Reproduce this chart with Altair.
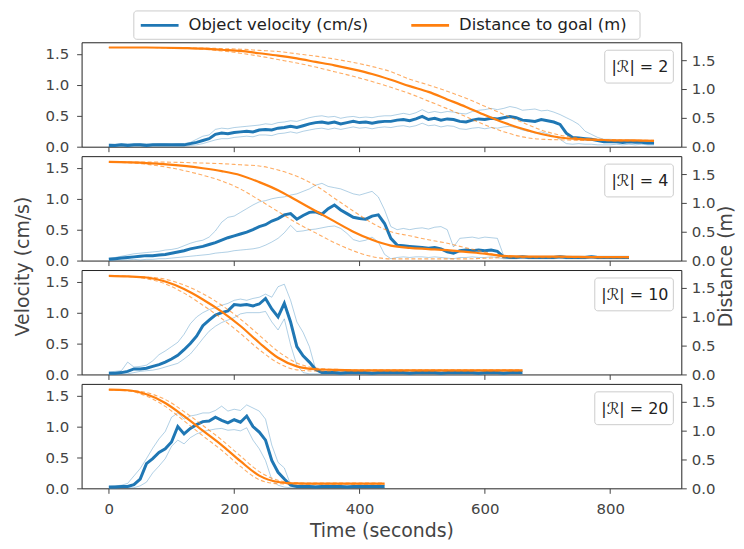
import altair as alt
import pandas as pd

# ---------------- data ----------------
legend_labels = ["Object velocity (cm/s)", "Distance to goal (m)"]
r_labels = ["|ℛ| = 2", "|ℛ| = 4", "|ℛ| = 10", "|ℛ| = 20"]
x_ticks = [0, 200, 400, 600, 800]
y_ticks = [0.0, 0.5, 1.0, 1.5]

# velocity sampled every 10 s (mean, upper band, lower band) for each panel
v1_mean = [0.02,0.02,0.03,0.02,0.03,0.03,0.02,0.03,0.03,0.03,0.03,0.03,0.03,
           0.05,0.07,0.10,0.13,0.20,0.22,0.21,0.23,0.24,0.25,
           0.24,0.27,0.28,0.27,0.30,0.31,0.33,0.31,0.34,0.37,
           0.39,0.40,0.38,0.40,0.37,0.39,0.41,0.39,0.40,0.38,
           0.40,0.41,0.41,0.43,0.44,0.42,0.45,0.49,0.44,0.46,
           0.43,0.45,0.44,0.41,0.40,0.43,0.45,0.44,0.46,0.45,
           0.47,0.49,0.47,0.43,0.42,0.41,0.44,0.42,0.40,0.36,
           0.22,0.15,0.14,0.13,0.12,0.10,0.08,0.08,0.08,0.07,
           0.08,0.07,0.07,0.06,0.06]
v1_up = [0.05,0.04,0.05,0.05,0.04,0.05,0.05,0.04,0.05,0.05,0.04,0.05,0.05,
         0.07,0.12,0.17,0.19,0.28,0.30,0.29,0.31,0.32,0.33,
         0.34,0.35,0.37,0.36,0.39,0.40,0.42,0.41,0.44,0.47,
         0.49,0.50,0.48,0.49,0.46,0.48,0.49,0.47,0.48,0.47,
         0.49,0.50,0.50,0.52,0.54,0.52,0.55,0.60,0.55,0.57,
         0.55,0.57,0.56,0.54,0.53,0.57,0.59,0.60,0.62,0.60,
         0.62,0.65,0.63,0.59,0.60,0.61,0.58,0.59,0.56,0.52,
         0.47,0.42,0.36,0.25,0.20,0.15,0.12,0.12,0.11,0.10,
         0.11,0.10,0.10,0.09,0.09]
v1_lo = [0.00,0.01,0.01,0.00,0.01,0.01,0.00,0.01,0.01,0.01,0.01,0.01,0.01,
         0.02,0.03,0.05,0.08,0.11,0.13,0.13,0.15,0.16,0.17,
         0.16,0.19,0.19,0.18,0.21,0.22,0.24,0.22,0.25,0.27,
         0.29,0.30,0.28,0.30,0.28,0.30,0.32,0.30,0.31,0.29,
         0.31,0.32,0.31,0.33,0.34,0.32,0.34,0.38,0.34,0.35,
         0.32,0.34,0.33,0.29,0.28,0.30,0.31,0.29,0.31,0.30,
         0.32,0.33,0.31,0.27,0.25,0.22,0.24,0.21,0.17,0.12,
         0.05,0.04,0.05,0.04,0.04,0.03,0.03,0.03,0.04,0.03,
         0.04,0.03,0.04,0.03,0.03]

v2_mean = [0.02,0.03,0.04,0.05,0.06,0.07,0.08,0.08,0.09,0.10,
           0.12,0.14,0.16,0.19,0.21,0.23,0.26,0.29,0.33,0.37,
           0.40,0.43,0.46,0.50,0.55,0.58,0.64,0.68,0.74,0.76,
           0.67,0.73,0.78,0.79,0.75,0.84,0.90,0.82,0.76,0.70,
           0.68,0.67,0.72,0.74,0.60,0.36,0.25,0.24,0.23,0.22,
           0.21,0.20,0.21,0.19,0.14,0.12,0.16,0.17,0.16,0.17,
           0.16,0.17,0.15,0.06,0.05,0.05,0.06,0.05,0.05,0.05,
           0.05,0.05,0.06,0.05,0.05,0.05,0.05,0.06,0.05,0.05,
           0.05,0.05,0.05,0.05]
v2_up = [0.04,0.05,0.07,0.09,0.11,0.12,0.13,0.14,0.15,0.17,
         0.18,0.20,0.24,0.28,0.31,0.33,0.38,0.48,0.62,0.70,
         0.72,0.78,0.84,0.90,0.95,0.97,1.00,1.02,1.03,1.06,
         1.08,1.12,1.16,1.22,1.25,1.20,1.18,1.16,1.12,1.08,
         1.06,1.09,1.12,1.03,0.82,0.55,0.50,0.52,0.50,0.52,
         0.53,0.51,0.54,0.55,0.50,0.22,0.36,0.37,0.38,0.36,
         0.38,0.37,0.36,0.08,0.07,0.07,0.08,0.07,0.07,0.07,
         0.07,0.07,0.08,0.07,0.07,0.07,0.07,0.08,0.07,0.07,
         0.07,0.07,0.07,0.07]
v2_lo = [0.00,0.01,0.01,0.01,0.02,0.01,0.02,0.02,0.03,0.03,
         0.04,0.05,0.06,0.07,0.08,0.09,0.10,0.12,0.13,0.14,
         0.16,0.17,0.18,0.19,0.21,0.25,0.30,0.36,0.45,0.57,
         0.47,0.48,0.50,0.51,0.53,0.55,0.56,0.52,0.44,0.34,
         0.31,0.33,0.38,0.30,0.10,0.03,0.05,0.06,0.05,0.06,
         0.06,0.05,0.06,0.05,0.04,0.03,0.05,0.05,0.06,0.05,
         0.05,0.06,0.05,0.03,0.03,0.03,0.04,0.03,0.03,0.03,
         0.03,0.03,0.04,0.03,0.03,0.03,0.03,0.04,0.03,0.03,
         0.03,0.03,0.03,0.03]

v3_mean = [0.02,0.02,0.03,0.05,0.09,0.09,0.10,0.13,0.16,0.20,
           0.25,0.31,0.40,0.50,0.62,0.79,0.88,0.96,1.00,1.03,
           1.13,1.12,1.13,1.11,1.14,1.23,1.06,0.93,1.15,0.85,
           0.45,0.30,0.20,0.08,0.03,0.03,0.03,0.02,0.03,0.03,
           0.03,0.03,0.02,0.03,0.03,0.03,0.03,0.03,0.02,0.03,
           0.03,0.03,0.03,0.02,0.03,0.03,0.03,0.03,0.03,0.02,
           0.03,0.03,0.03,0.02,0.03,0.03,0.03]
v3_up = [0.04,0.05,0.06,0.20,0.12,0.13,0.15,0.22,0.32,0.38,
         0.45,0.52,0.65,0.82,0.93,1.00,1.05,1.08,1.12,1.15,
         1.20,1.22,1.20,1.23,1.25,1.30,1.25,1.42,1.46,1.20,
         0.85,0.68,0.45,0.08,0.05,0.05,0.05,0.04,0.05,0.05,
         0.05,0.05,0.04,0.05,0.05,0.05,0.05,0.05,0.04,0.05,
         0.05,0.05,0.05,0.04,0.05,0.05,0.05,0.05,0.05,0.04,
         0.05,0.05,0.05,0.04,0.05,0.05,0.05]
v3_lo = [0.00,0.00,0.01,0.01,0.03,0.05,0.06,0.07,0.09,0.12,
         0.15,0.18,0.25,0.33,0.45,0.58,0.70,0.78,0.84,0.88,
         0.92,0.98,1.00,1.00,1.00,1.02,0.85,0.72,0.90,0.48,
         0.15,0.03,0.01,0.01,0.01,0.01,0.01,0.01,0.01,0.01,
         0.01,0.01,0.01,0.01,0.01,0.01,0.01,0.01,0.01,0.01,
         0.01,0.01,0.01,0.01,0.01,0.01,0.01,0.01,0.01,0.01,
         0.01,0.01,0.01,0.01,0.01,0.01,0.01]

v4_mean = [0.02,0.02,0.03,0.03,0.06,0.15,0.40,0.48,0.58,0.64,
           0.75,1.00,0.88,0.97,1.03,1.08,1.09,1.15,1.10,1.06,
           1.11,1.07,1.17,1.00,0.91,0.78,0.45,0.26,0.15,0.05,
           0.03,0.03,0.03,0.02,0.03,0.03,0.03,0.03,0.02,0.03,
           0.03,0.03,0.03,0.03,0.03]
v4_up = [0.03,0.04,0.05,0.08,0.20,0.32,0.48,0.65,0.80,0.92,
         1.15,1.22,1.12,1.17,1.19,1.22,1.22,1.26,1.33,1.25,
         1.28,1.26,1.35,1.30,1.25,1.12,0.70,0.42,0.33,0.06,
         0.05,0.05,0.05,0.04,0.05,0.05,0.05,0.05,0.04,0.05,
         0.05,0.05,0.05,0.05,0.05]
v4_lo = [0.00,0.00,0.01,0.01,0.01,0.04,0.10,0.25,0.36,0.48,
         0.68,0.78,0.72,0.82,0.88,0.92,0.94,0.96,0.97,0.94,
         0.95,0.93,0.98,0.78,0.64,0.45,0.14,0.05,0.02,0.01,
         0.01,0.01,0.01,0.01,0.01,0.01,0.01,0.01,0.01,0.01,
         0.01,0.01,0.01,0.01,0.01]

# distance to goal (mean, upper dashed, lower dashed)
d1_t = [0,60,120,150,180,210,240,270,300,330,360,390,420,450,480,510,540,570,600,630,660,690,720,750,780,810,840,870]
d1_mean = [1.72,1.72,1.71,1.70,1.68,1.66,1.62,1.58,1.53,1.47,1.41,1.34,1.26,1.16,1.05,0.95,0.82,0.69,0.55,0.42,0.31,0.22,0.16,0.13,0.12,0.11,0.11,0.10]
d1_up = [1.72,1.72,1.71,1.71,1.70,1.69,1.67,1.65,1.61,1.57,1.52,1.46,1.39,1.30,1.17,1.07,0.96,0.84,0.70,0.56,0.42,0.29,0.20,0.15,0.13,0.12,0.11,0.11]
d1_lo = [1.72,1.72,1.71,1.69,1.66,1.62,1.57,1.51,1.45,1.38,1.30,1.22,1.13,1.03,0.92,0.79,0.66,0.52,0.38,0.26,0.17,0.13,0.12,0.11,0.11,0.10,0.10,0.10]

d2_t = [0,60,120,150,180,210,240,270,300,330,360,390,420,450,480,510,540,570,600,630,660,720,780,830]
d2_mean = [1.71,1.69,1.64,1.60,1.55,1.48,1.36,1.22,1.04,0.86,0.68,0.50,0.36,0.26,0.22,0.20,0.18,0.15,0.12,0.08,0.07,0.07,0.06,0.06]
d2_up = [1.71,1.71,1.70,1.69,1.68,1.66,1.64,1.57,1.46,1.30,1.08,0.86,0.65,0.50,0.43,0.36,0.30,0.22,0.15,0.07,0.07,0.07,0.06,0.06]
d2_lo = [1.71,1.67,1.56,1.48,1.38,1.24,1.05,0.85,0.65,0.48,0.31,0.17,0.07,0.03,0.03,0.03,0.03,0.03,0.04,0.05,0.05,0.05,0.05,0.05]

d3_t = [0,30,60,90,120,150,180,210,240,270,300,330,360,420,480,540,600,660]
d3_mean = [1.71,1.70,1.68,1.61,1.48,1.30,1.09,0.84,0.55,0.29,0.14,0.09,0.08,0.07,0.07,0.07,0.07,0.07]
d3_up = [1.71,1.70,1.69,1.65,1.55,1.40,1.20,0.96,0.68,0.40,0.20,0.11,0.09,0.08,0.08,0.08,0.08,0.08]
d3_lo = [1.71,1.70,1.66,1.57,1.41,1.20,0.97,0.71,0.43,0.20,0.08,0.06,0.06,0.06,0.06,0.06,0.06,0.06]

d4_t = [0,30,60,90,120,150,180,210,240,270,300,330,360,400,440]
d4_mean = [1.71,1.70,1.63,1.48,1.25,1.00,0.75,0.47,0.22,0.11,0.085,0.08,0.08,0.08,0.08]
d4_up = [1.71,1.70,1.66,1.54,1.33,1.09,0.84,0.56,0.29,0.14,0.095,0.09,0.09,0.09,0.09]
d4_lo = [1.71,1.69,1.60,1.42,1.17,0.91,0.66,0.38,0.15,0.08,0.075,0.07,0.07,0.07,0.07]

V_MEAN = [v1_mean, v2_mean, v3_mean, v4_mean]
V_UP = [v1_up, v2_up, v3_up, v4_up]
V_LO = [v1_lo, v2_lo, v3_lo, v4_lo]
D_T = [d1_t, d2_t, d3_t, d4_t]
D_MEAN = [d1_mean, d2_mean, d3_mean, d4_mean]
D_UP = [d1_up, d2_up, d3_up, d4_up]
D_LO = [d1_lo, d2_lo, d3_lo, d4_lo]

# ---------------- layout / style ----------------
W, H = 603, 105
XDOM = [-43.5, 913.5]
VDOM = [0, 1.69]
DDOM = [0, 1.81]
BLUE, ORANGE = "#1f77b4", "#ff7f0e"
TXT = "#444444"
FONT = "DejaVu Sans"
BOX_W = [69, 69, 79, 79]


def make_panel(i):
    vt = [10 * k for k in range(len(V_MEAN[i]))]
    vdf = pd.DataFrame({"t": vt, "mean": V_MEAN[i], "upper": V_UP[i], "lower": V_LO[i]})
    ddf = pd.DataFrame({"t": D_T[i], "mean": D_MEAN[i], "upper": D_UP[i], "lower": D_LO[i]})
    last = i == 3

    if last:
        xaxis = alt.Axis(values=x_ticks, title="Time (seconds)", labelPadding=8, titlePadding=5)
    else:
        xaxis = alt.Axis(values=x_ticks, labels=False, title=None)
    X = alt.X("t:Q", scale=alt.Scale(domain=XDOM, nice=False, zero=False), axis=xaxis)

    if i == 1:
        laxis = alt.Axis(values=y_ticks, format=".1f", orient="left", labelPadding=8,
                         title="Velocity (cm/s)", titleX=-59, titleY=110.5, titleAngle=270,
                         titleBaseline="middle", titleAlign="center")
        raxis = alt.Axis(values=y_ticks, format=".1f", orient="right", labelPadding=5,
                         title="Distance (m)", titleX=44, titleY=110.5, titleAngle=270,
                         titleBaseline="middle", titleAlign="center")
    else:
        laxis = alt.Axis(values=y_ticks, format=".1f", orient="left", labelPadding=8, title=None)
        raxis = alt.Axis(values=y_ticks, format=".1f", orient="right", labelPadding=5, title=None)

    vbase = alt.Chart(vdf)
    vband = vbase.transform_fold(["upper", "lower"], as_=["band", "val"]).mark_line(
        color=BLUE, strokeWidth=0.7, opacity=0.5
    ).encode(x=X, y=alt.Y("val:Q", scale=alt.Scale(domain=VDOM, nice=False), axis=laxis),
             detail="band:N")
    vmean = vbase.mark_line(color=BLUE, strokeWidth=3).encode(
        x=X, y=alt.Y("mean:Q", scale=alt.Scale(domain=VDOM, nice=False), axis=laxis))

    dbase = alt.Chart(ddf)
    dband = dbase.transform_fold(["upper", "lower"], as_=["band", "val"]).mark_line(
        color=ORANGE, strokeWidth=1.1, opacity=0.65, strokeDash=[4, 2.5], interpolate="monotone"
    ).encode(x=X, y=alt.Y("val:Q", scale=alt.Scale(domain=DDOM, nice=False), axis=raxis),
             detail="band:N")
    dmean = dbase.mark_line(color=ORANGE, strokeWidth=2.2, interpolate="monotone").encode(
        x=X, y=alt.Y("mean:Q", scale=alt.Scale(domain=DDOM, nice=False), axis=raxis))

    lab = alt.Chart(pd.DataFrame({"lab": [r_labels[i]]}))
    box = lab.mark_rect(fill="white", fillOpacity=0.85, stroke="#cccccc", strokeWidth=1,
                        cornerRadius=3).encode(
        x=alt.value(W - 8 - BOX_W[i]), x2=alt.value(W - 8), y=alt.value(8), y2=alt.value(41))
    txt = lab.mark_text(align="right", baseline="middle", fontSize=16, font=FONT,
                        color="#222222").encode(
        text="lab:N", x=alt.value(W - 13), y=alt.value(25))

    extra = [box, txt]
    if i == 0:
        lg = alt.Chart(pd.DataFrame({"a": [0]}))
        lbox = lg.mark_rect(fill="white", stroke="#cccccc", strokeWidth=1, cornerRadius=3).encode(
            x=alt.value(52.5), x2=alt.value(561.5), y=alt.value(-31.5), y2=alt.value(-3))
        r1 = lg.mark_rule(color=BLUE, strokeWidth=2.7).encode(
            x=alt.value(59.5), x2=alt.value(97.5), y=alt.value(-17))
        r2 = lg.mark_rule(color=ORANGE, strokeWidth=2.7).encode(
            x=alt.value(331.5), x2=alt.value(369.5), y=alt.value(-17))
        t1 = alt.Chart(pd.DataFrame({"lab": [legend_labels[0]]})).mark_text(
            align="left", baseline="middle", fontSize=16.5, font=FONT, color="#222222"
        ).encode(text="lab:N", x=alt.value(107.5), y=alt.value(-17))
        t2 = alt.Chart(pd.DataFrame({"lab": [legend_labels[1]]})).mark_text(
            align="left", baseline="middle", fontSize=16.5, font=FONT, color="#222222"
        ).encode(text="lab:N", x=alt.value(379.5), y=alt.value(-17))
        extra += [lbox, r1, r2, t1, t2]

    panel = alt.layer(
        alt.layer(vband, vmean),
        alt.layer(dband, dmean),
        *extra,
    ).resolve_scale(y="independent").properties(width=W, height=H)
    return panel


chart = alt.vconcat(*[make_panel(i) for i in range(4)], spacing=9.5, bounds="flush").properties(
    padding={"left": 5, "top": 0, "right": 0, "bottom": 0}
).configure_view(
    stroke="#222222", strokeWidth=1
).configure_axis(
    labelFont=FONT, titleFont=FONT, labelFontSize=15, titleFontSize=19,
    labelColor=TXT, titleColor=TXT, tickColor="#444444", tickSize=5, tickWidth=1,
    domain=False, grid=False, titleFontWeight="normal", labelFlush=False
)

chart.save("out.html", embed_options={"renderer": "svg", "actions": False})
